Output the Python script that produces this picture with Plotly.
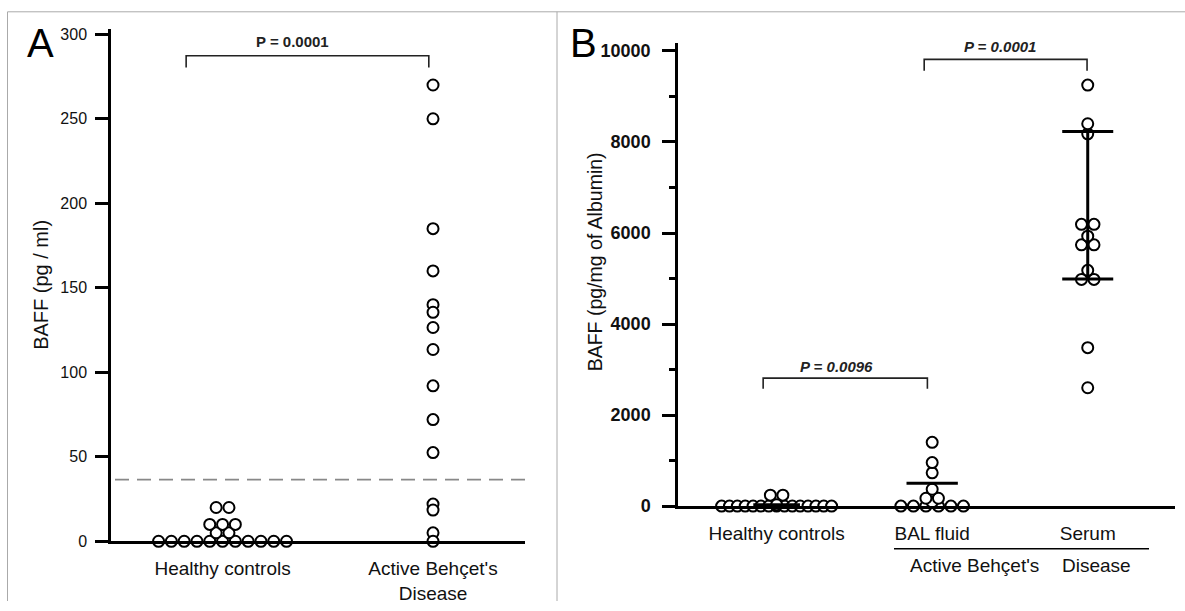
import plotly.graph_objects as go

W, H = 1185, 611

# ---------------- data ----------------
groups_A = ["Healthy controls", "Active Behçet's<br>Disease"]
A_healthy = [0, 0, 0, 0, 0, 0, 0, 0, 0, 0, 0, 5, 5, 10, 10, 10, 20, 20]
A_active = [270, 250, 185, 160, 140, 135.5, 126.5, 113.5, 92, 72, 52.5, 22, 18.5, 5, 0]
A_cutoff = 36.5
A_yticks = [0, 50, 100, 150, 200, 250, 300]
A_pvalue = "P = 0.0001"

groups_B = ["Healthy controls", "BAL fluid", "Serum"]
B_healthy = [0, 0, 0, 0, 0, 0, 0, 0, 0, 0, 0, 0, 0, 0, 0, 30, 240, 240]
B_bal = [0, 0, 0, 0, 0, 0, 86, 172, 172, 370, 730, 955, 1400]
B_serum = [2600, 3480, 4980, 4980, 5180, 5740, 5740, 5930, 6190, 6190, 8180, 8400, 9250]
B_healthy_bar = 30
B_bal_bar = 500
B_serum_range = [4990, 8230]
B_yticks = [0, 2000, 4000, 6000, 8000, 10000]
B_yticklabels = ["0", "2000", "4000", "6000", "8000", "10000"]
B_pvalues = ["P = 0.0096", "P = 0.0001"]
B_group_label = ["Active Behçet's", "Disease"]

# bracket heights (top, leg end) in data units
A_bracket = [287.3, 280.3]
B_brackets = [[2812, 2577], [9816, 9565]]

FONT = "Arial, Liberation Sans, sans-serif"


def px(x):
    return x / W


def py(y):
    return 1 - y / H


def swarm(center, values, step, maxspan):
    order = []
    groups = {}
    for v in values:
        if v not in groups:
            groups[v] = 0
            order.append(v)
        groups[v] += 1
    xs, ys = [], []
    for v in order:
        n = groups[v]
        sp = step if n == 1 else min(step, maxspan / (n - 1))
        for i in range(n):
            xs.append(center + (i - (n - 1) / 2) * sp)
            ys.append(v)
    return xs, ys


fig = go.Figure()

marker = dict(symbol="circle", size=11, color="white", line=dict(color="black", width=2))

# ---- panel A points ----
for ci, vals in enumerate([A_healthy, A_active]):
    xs, ys = swarm(ci, vals, 0.0608, 0.7)
    fig.add_trace(go.Scatter(x=xs, y=ys, mode="markers", marker=marker, cliponaxis=False,
                             xaxis="x", yaxis="y", showlegend=False, hoverinfo="y"))

# ---- panel B points ----
for ci, vals in enumerate([B_healthy, B_bal, B_serum]):
    xs, ys = swarm(ci, vals, 0.0804, 0.707)
    fig.add_trace(go.Scatter(x=xs, y=ys, mode="markers", marker=marker, cliponaxis=False,
                             xaxis="x2", yaxis="y2", showlegend=False, hoverinfo="y"))

# summary bars panel B
bar_line = dict(color="black", width=3)
for ci, v, hw in [(0, B_healthy_bar, 0.15), (1, B_bal_bar, 0.165)]:
    fig.add_trace(go.Scatter(x=[ci - hw, ci + hw], y=[v, v], mode="lines", line=bar_line,
                             cliponaxis=False, xaxis="x2", yaxis="y2", showlegend=False, hoverinfo="skip"))
lo, hi = B_serum_range
hw = 0.164
fig.add_trace(go.Scatter(x=[2 - hw, 2 + hw, None, 2, 2, None, 2 - hw, 2 + hw],
                         y=[hi, hi, None, hi, lo, None, lo, lo], mode="lines", line=bar_line,
                         cliponaxis=False, xaxis="x2", yaxis="y2", showlegend=False, hoverinfo="skip"))

# brackets
br_line = dict(color="#222", width=1.6)
fig.add_trace(go.Scatter(x=[-0.173, -0.173, 0.98, 0.98],
                         y=[A_bracket[1], A_bracket[0], A_bracket[0], A_bracket[1]],
                         mode="lines", line=br_line, cliponaxis=False, xaxis="x", yaxis="y",
                         showlegend=False, hoverinfo="skip"))
for (x0, x1), (top, leg) in zip([(-0.0866, 0.9692), (0.9486, 1.9956)], B_brackets):
    fig.add_trace(go.Scatter(x=[x0, x0, x1, x1], y=[leg, top, top, leg], mode="lines",
                             line=br_line, cliponaxis=False, xaxis="x2", yaxis="y2",
                             showlegend=False, hoverinfo="skip"))

C = dict(xanchor="center", yanchor="middle", showarrow=False)
annotations = []
annotations.append(dict(x=0.33, y=A_bracket[0], xref="x", yref="y", text="<b>" + A_pvalue + "</b>",
                        yshift=14, font=dict(family=FONT, size=15, color="#222"), **C))
for (xm, top), txt, ys in zip([(0.388, B_brackets[0][0]), (1.439, B_brackets[1][0])], B_pvalues, [12, 13]):
    annotations.append(dict(x=xm, y=top, xref="x2", yref="y2", text="<b><i>" + txt + "</i></b>",
                            yshift=ys, font=dict(family=FONT, size=15, color="#222"), **C))

# panel letters
annotations.append(dict(x=px(40), y=py(41), xref="paper", yref="paper", text="A",
                        font=dict(family=FONT, size=40, color="black"), **C))
annotations.append(dict(x=px(583), y=py(41), xref="paper", yref="paper", text="B",
                        font=dict(family=FONT, size=40, color="black"), **C))
# y titles
annotations.append(dict(x=px(41), y=py(288), xref="paper", yref="paper", text="BAFF (pg / ml)",
                        textangle=-90, font=dict(family=FONT, size=20, color="#111"), **C))
annotations.append(dict(x=px(595), y=py(265), xref="paper", yref="paper", text="BAFF (pg/mg of Albumin)",
                        textangle=-90, font=dict(family=FONT, size=19.5, color="#111"), **C))
# group label
annotations.append(dict(x=px(974), y=py(575), xref="paper", yref="paper", text=B_group_label[0],
                        font=dict(family=FONT, size=19, color="#111"), **C))
annotations.append(dict(x=px(1096), y=py(575), xref="paper", yref="paper", text=B_group_label[1],
                        font=dict(family=FONT, size=19, color="#111"), **C))

shapes = []
# cutoff dashed line
shapes.append(dict(type="line", xref="paper", yref="y", x0=px(115), x1=px(525), y0=A_cutoff, y1=A_cutoff,
                   line=dict(color="#888", width=1.6, dash="14px,8px")))
# group underline
shapes.append(dict(type="line", xref="paper", yref="paper", x0=px(894), x1=px(1149), y0=py(557.5), y1=py(557.5),
                   line=dict(color="black", width=1.5)))
# frame
frame = dict(color="#aaa", width=1)
shapes.append(dict(type="line", xref="paper", yref="paper", x0=px(7.5), x1=px(7.5), y0=py(9), y1=0, line=frame))
shapes.append(dict(type="line", xref="paper", yref="paper", x0=px(7.5), x1=1, y0=py(9), y1=py(9), line=frame))
shapes.append(dict(type="line", xref="paper", yref="paper", x0=px(557), x1=px(557), y0=py(9), y1=0, line=frame))

axis_common = dict(showgrid=False, zeroline=False, showline=True, linecolor="black", linewidth=2.5)

fig.update_layout(
    width=W, height=H, margin=dict(l=0, r=0, t=0, b=0),
    paper_bgcolor="white", plot_bgcolor="white",
    font=dict(family=FONT, color="#111"),
    showlegend=False,
    xaxis=dict(domain=[px(111), px(525)], range=[-0.530, 1.437], anchor="y",
               tickvals=[0, 1], ticktext=groups_A, ticks="outside", ticklen=8, tickcolor="rgba(0,0,0,0)",
               tickfont=dict(family=FONT, size=19, color="#111"), **axis_common),
    yaxis=dict(domain=[py(550), py(26.8)], range=[0, 303], anchor="x",
               tickvals=A_yticks, ticks="outside", ticklen=13, tickwidth=2.5, tickcolor="black",
               ticklabelstandoff=5,
               tickfont=dict(family=FONT, size=16, color="#111"), **axis_common),
    xaxis2=dict(domain=[px(678), px(1175)], range=[-0.634, 2.561], anchor="y2",
                tickvals=[0, 1, 2], ticktext=groups_B, ticks="outside", ticklen=8, tickcolor="rgba(0,0,0,0)",
                tickfont=dict(family=FONT, size=19, color="#111"), **axis_common),
    yaxis2=dict(domain=[py(514), py(41.1)], range=[0, 10170], anchor="x2",
                tickvals=B_yticks, ticktext=B_yticklabels, ticks="outside", ticklen=13, tickwidth=2.5,
                tickcolor="black", ticklabelstandoff=8,
                minor=dict(tickvals=[1000, 3000, 5000, 7000, 9000], ticks="outside", ticklen=6,
                           tickwidth=2.5, tickcolor="black"),
                tickfont=dict(family=FONT, size=18, color="#111", weight="bold"), **axis_common),
    annotations=annotations, shapes=shapes,
)

fig.write_html("out.html", config={"displayModeBar": False},
               post_script="document.body.style.margin='0';document.body.style.padding='0';")
